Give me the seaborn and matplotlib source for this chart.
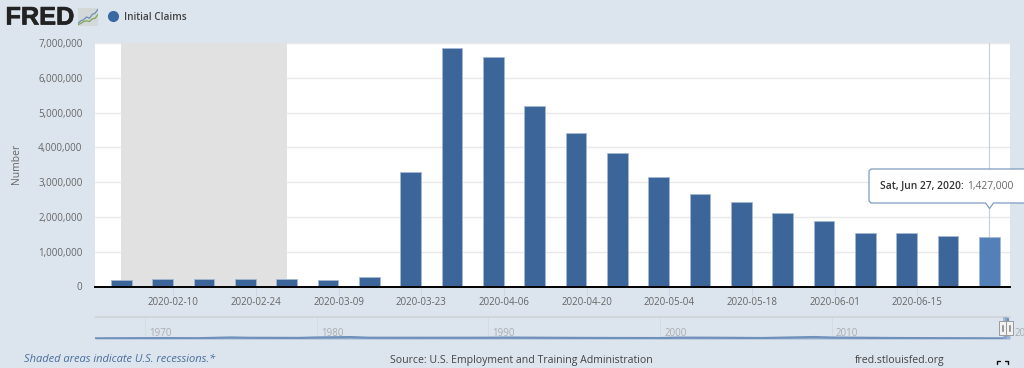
import pandas as pd
import matplotlib
matplotlib.use("Agg")
import matplotlib.pyplot as plt
import matplotlib.dates as mdates
import matplotlib.patheffects as pe
from matplotlib.lines import Line2D
from matplotlib.patches import Polygon, Rectangle
import seaborn as sns

# Data
week_dates = ["2020-02-01", "2020-02-08", "2020-02-15", "2020-02-22", "2020-02-29",
              "2020-03-07", "2020-03-14", "2020-03-21", "2020-03-28", "2020-04-04",
              "2020-04-11", "2020-04-18", "2020-04-25", "2020-05-02", "2020-05-09",
              "2020-05-16", "2020-05-23", "2020-05-30", "2020-06-06", "2020-06-13",
              "2020-06-20", "2020-06-27"]
claims = [201000, 204000, 205000, 219000, 216000, 201000, 282000, 3283000,
          6850000, 6600000, 5200000, 4420000, 3840000, 3150000, 2670000,
          2420000, 2120000, 1880000, 1550000, 1530000, 1460000, 1427000]
tick_dates = ["2020-02-10", "2020-02-24", "2020-03-09", "2020-03-23", "2020-04-06",
              "2020-04-20", "2020-05-04", "2020-05-18", "2020-06-01", "2020-06-15"]
y_ticks = [0, 1000000, 2000000, 3000000, 4000000, 5000000, 6000000, 7000000]
recession_start = "2020-02-01"
recession_end = "2020-02-29"

nav_years = [1967.1, 1970, 1971, 1973, 1975, 1976, 1979, 1980, 1982, 1983, 1985, 1990,
             1991, 1995, 2000, 2001, 2003, 2006, 2009, 2010, 2014, 2019, 2020.12, 2020.17, 2020.25, 2020.38]
nav_claims = [210000, 260000, 290000, 240000, 480000, 380000, 340000, 480000, 600000, 400000,
              390000, 400000, 450000, 350000, 290000, 430000, 400000, 310000, 620000, 450000,
              300000, 215000, 215000, 6867000, 6615000, 1427000]
nav_ticks = [1970, 1980, 1990, 2000, 2010, 2020]
nav_labels = ["1970", "1980", "1990", "2000", "2010", "20"]

logo_x = [0, 1, 2, 3, 4, 5, 6, 7]
logo_blue = [2, 4, 5, 7, 6, 9, 10, 13]
logo_green = [1, 2, 3.5, 4, 3.5, 5.5, 6, 9]

W, H = 1024, 368
BG = "#dce5ee"
BAR = "#3c6699"
BAR_HI = "#5380b6"
GREY = "#666666"
sns.set_theme(style="white")
plt.rcParams["font.family"] = ["Open Sans", "DejaVu Sans"]


def px_axes(fig, left, top, right, bottom, **kw):
    return fig.add_axes([left / W, 1 - bottom / H, (right - left) / W, (bottom - top) / H], **kw)


def ftext(fig, x, y, s, **kw):
    kw.setdefault("va", "center")
    return fig.text(x / W, 1 - y / H, s, **kw)


fig = plt.figure(figsize=(W / 100, H / 100), dpi=100, facecolor=BG)

# main chart
df = pd.DataFrame({"date": mdates.date2num(pd.to_datetime(week_dates)), "claims": claims})
df["selected"] = ["yes" if d == week_dates[-1] else "no" for d in week_dates]

ax = px_axes(fig, 95, 43, 1010, 286.5, facecolor="white")
sns.barplot(data=df, x="date", y="claims", hue="selected", palette={"no": BAR, "yes": BAR_HI},
            native_scale=True, dodge=False, width=0.5, saturation=1, legend=False,
            edgecolor="#a4b8d2", linewidth=0.6, ax=ax)
ax.axvspan(mdates.date2num(pd.Timestamp(recession_start)), mdates.date2num(pd.Timestamp(recession_end)),
           color="#e1e1e1", lw=0, zorder=0.7)
ax.set_xlim(df["date"].iloc[0] - 4.45, df["date"].iloc[-1] + 3.5)
ax.set_ylim(0, 7000000)
ax.set_axisbelow(True)
ax.grid(axis="y", color="#e9e9e9", lw=1)
ax.set_yticks(y_ticks)
ax.set_yticklabels([f"{v:,}" for v in y_ticks], fontsize=7, color=GREY)
ax.set_xticks(mdates.date2num(pd.to_datetime(tick_dates)) - 0.18)
ax.set_xticklabels(tick_dates, fontsize=7, color=GREY)
ax.tick_params(axis="x", length=5.5, width=0.7, color="#ccd6eb", pad=2, bottom=True)
ax.tick_params(axis="y", length=0, pad=9)
ax.set_xlabel("")
ax.set_ylabel("")
for name in ["top", "left", "right"]:
    ax.spines[name].set_visible(False)
ax.spines["bottom"].set_color("black")
ax.spines["bottom"].set_linewidth(1.4)
ax.axvline(df["date"].iloc[-1], color="#c9d1da", lw=0.9, zorder=0.8)

ftext(fig, 17, 164, "Number", rotation=90, ha="center", fontsize=7.5, color=GREY)

# navigator
nav = px_axes(fig, 95, 317, 1010, 339, facecolor="none")
nav.fill_between(nav_years, nav_claims, color="#8fa9cb", lw=0, alpha=0.8)
sns.lineplot(x=nav_years, y=nav_claims, color="#6f90bb", lw=1.6, ax=nav, legend=False)
nav.set_xlim(1967.09, 2020.38)
nav.set_ylim(0, 7000000)
nav.axis("off")
nav.axhline(7000000, color="#cfd4d8", lw=1.2, clip_on=False)
for year, label in zip(nav_ticks, nav_labels):
    nav.axvline(year, color="#d3dae1", lw=0.6, zorder=0)
    nav.annotate(label, (year, 0), xytext=(3 if label != "20" else 8, 0), textcoords="offset points",
                 fontsize=7, color="#a9adb1", va="bottom", ha="left", annotation_clip=False)

fig.add_artist(Rectangle((1003 / W, 1 - 339 / H), 4 / W, 22 / H, color="#8fa9cb", alpha=0.7, lw=0))
for left in [999, 1006]:
    fig.add_artist(Rectangle((left / W, 1 - 335 / H), 7 / W, 14 / H, facecolor="#f2f2f2",
                             edgecolor="#9a9a9a", lw=0.7))
    for off in [2.6, 4.4]:
        fig.add_artist(Line2D([(left + off) / W] * 2, [1 - 325 / H, 1 - 331 / H], color="#888888", lw=0.6))

# tooltip
tip = [(871, 169), (1030, 169), (1030, 203), (993.5, 203), (989.5, 208.5), (985.5, 203), (871, 203), (869, 201), (869, 171)]
fig.add_artist(Polygon([(x / W, 1 - y / H) for x, y in tip], closed=True, facecolor="white",
                       edgecolor="#7e9cc0", lw=0.9, zorder=5))
ftext(fig, 880, 186, "Sat, Jun 27, 2020:", fontsize=7.4, color="#333333", fontweight="semibold", zorder=6)
ftext(fig, 967.5, 186, "1,427,000", fontsize=7.4, color=GREY, zorder=6)

# header
ftext(fig, 5.5, 17.5, "FRED", fontsize=18.2, fontweight="bold", color="#222222",
      family=["Liberation Sans", "DejaVu Sans"],
      path_effects=[pe.withStroke(linewidth=0.5, foreground="#222222")])
logo = px_axes(fig, 78, 8, 98, 26, facecolor="#d3d8d8")
sns.lineplot(x=logo_x, y=logo_blue, color="#6d8fb5", lw=0.9, ax=logo)
sns.lineplot(x=logo_x, y=logo_green, color="#7fa65a", lw=0.9, ax=logo)
logo.set_xlim(0, 7)
logo.set_ylim(0, 14)
logo.set_xlabel("")
logo.set_ylabel("")
logo.set_xticks([])
logo.set_yticks([])
for s in logo.spines.values():
    s.set_visible(False)

fig.add_artist(Line2D([113 / W], [1 - 16 / H], marker="o", ms=8, color="#3a68a3", mew=0))
ftext(fig, 124.5, 17, "Initial Claims", fontsize=7.2, color="#444444", fontweight="semibold")

# footer
ftext(fig, 24, 360, "Shaded areas indicate U.S. recessions.*", fontsize=8, color="#4a6d9c", style="italic")
ftext(fig, 389.5, 360, "Source: U.S. Employment and Training Administration", fontsize=7.6, color="#444444")
ftext(fig, 855, 360, "fred.stlouisfed.org", fontsize=7.6, color="#444444")
for xs, ys in [([997, 997, 1000], [364, 361, 361]), ([1005, 1008, 1008], [361, 361, 364])]:
    fig.add_artist(Line2D([x / W for x in xs], [1 - y / H for y in ys], color="#111111", lw=1))

fig.savefig("out.png", dpi=100, facecolor=fig.get_facecolor())
